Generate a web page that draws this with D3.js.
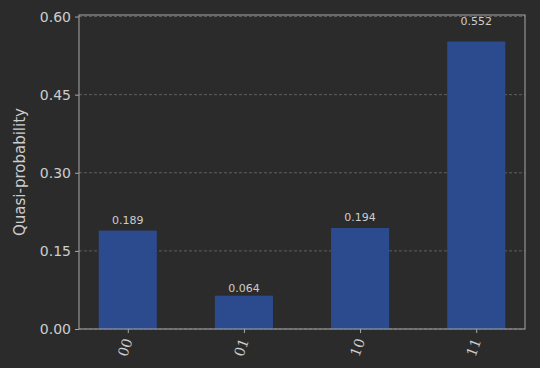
<!DOCTYPE html>
<html><head><meta charset="utf-8">
<script src="https://cdn.jsdelivr.net/npm/d3@7"></script>
<style>html,body{margin:0;padding:0;background:#2b2b2b;}</style>
</head><body>
<svg id="c" width="540" height="368"></svg>
<script>
const categories = ["00", "01", "10", "11"];
const values = [0.189, 0.064, 0.194, 0.552];
const valueLabels = ["0.189", "0.064", "0.194", "0.552"];
const yTicks = [0.00, 0.15, 0.30, 0.45, 0.60];
const yLabel = "Quasi-probability";

const svg = d3.select("#c");
const W = 540, H = 368;
svg.append("rect").attr("width", W).attr("height", H).attr("fill", "#2b2b2b");
const L = 79, R = 525, T = 15, B = 329;
const x = d3.scaleLinear().domain([-0.42, 3.42]).range([L, R]);
const y = d3.scaleLinear().domain([0, 0.603]).range([B, T]);
const txt = "#cdcdcd";
const g = svg.append("g");

// grid
g.selectAll(".grid").data(yTicks).join("line")
  .attr("x1", L).attr("x2", R)
  .attr("y1", d => y(d)).attr("y2", d => y(d))
  .attr("stroke", "#8a8a8a").attr("stroke-width", 0.8)
  .attr("stroke-dasharray", "3,2").attr("opacity", 0.7);

// bars
const bw = 0.5;
g.selectAll(".bar").data(values).join("rect")
  .attr("x", (d, i) => x(i - bw / 2))
  .attr("width", x(bw) - x(0))
  .attr("y", d => y(d))
  .attr("height", d => y(0) - y(d))
  .attr("fill", "#2c4a8e");

// value labels (placed just above 1.05 × value, as the reference does)
g.selectAll(".vl").data(values).join("text")
  .attr("x", (d, i) => x(i))
  .attr("y", d => y(d * 1.05) - 2)
  .attr("text-anchor", "middle")
  .attr("fill", txt)
  .attr("font-family", "DejaVu Sans")
  .attr("font-size", 11)
  .text((d, i) => valueLabels[i]);

// frame
g.append("rect").attr("x", L).attr("y", T).attr("width", R - L).attr("height", B - T)
  .attr("fill", "none").attr("stroke", "#a8a8a8").attr("stroke-width", 1);

// y axis
const ya = svg.append("g").attr("transform", `translate(${L},0)`)
  .call(d3.axisLeft(y).tickValues(yTicks).tickFormat(d3.format(".2f")).tickSize(4).tickPadding(4));
ya.select(".domain").remove();
ya.selectAll("line").attr("stroke", "#a8a8a8");
ya.selectAll("text").attr("fill", txt).attr("font-family", "DejaVu Sans").attr("font-size", 14);

// x axis
const xa = svg.append("g").attr("transform", `translate(0,${B})`)
  .call(d3.axisBottom(x).tickValues(d3.range(categories.length)).tickFormat(i => categories[i]).tickSize(4));
xa.select(".domain").remove();
xa.selectAll("line").attr("stroke", "#a8a8a8");
xa.selectAll("text")
  .attr("fill", txt).attr("font-family", "DejaVu Serif").attr("font-size", 14)
  .attr("text-anchor", "end").attr("dy", "0.35em")
  .attr("transform", "translate(0,10) rotate(-70)")
  .attr("x", 0).attr("y", 0);

// y label
svg.append("text")
  .attr("transform", `translate(25,${(T + B) / 2}) rotate(-90)`)
  .attr("text-anchor", "middle")
  .attr("fill", txt).attr("font-family", "DejaVu Sans").attr("font-size", 15)
  .text(yLabel);
</script>
</body></html>
